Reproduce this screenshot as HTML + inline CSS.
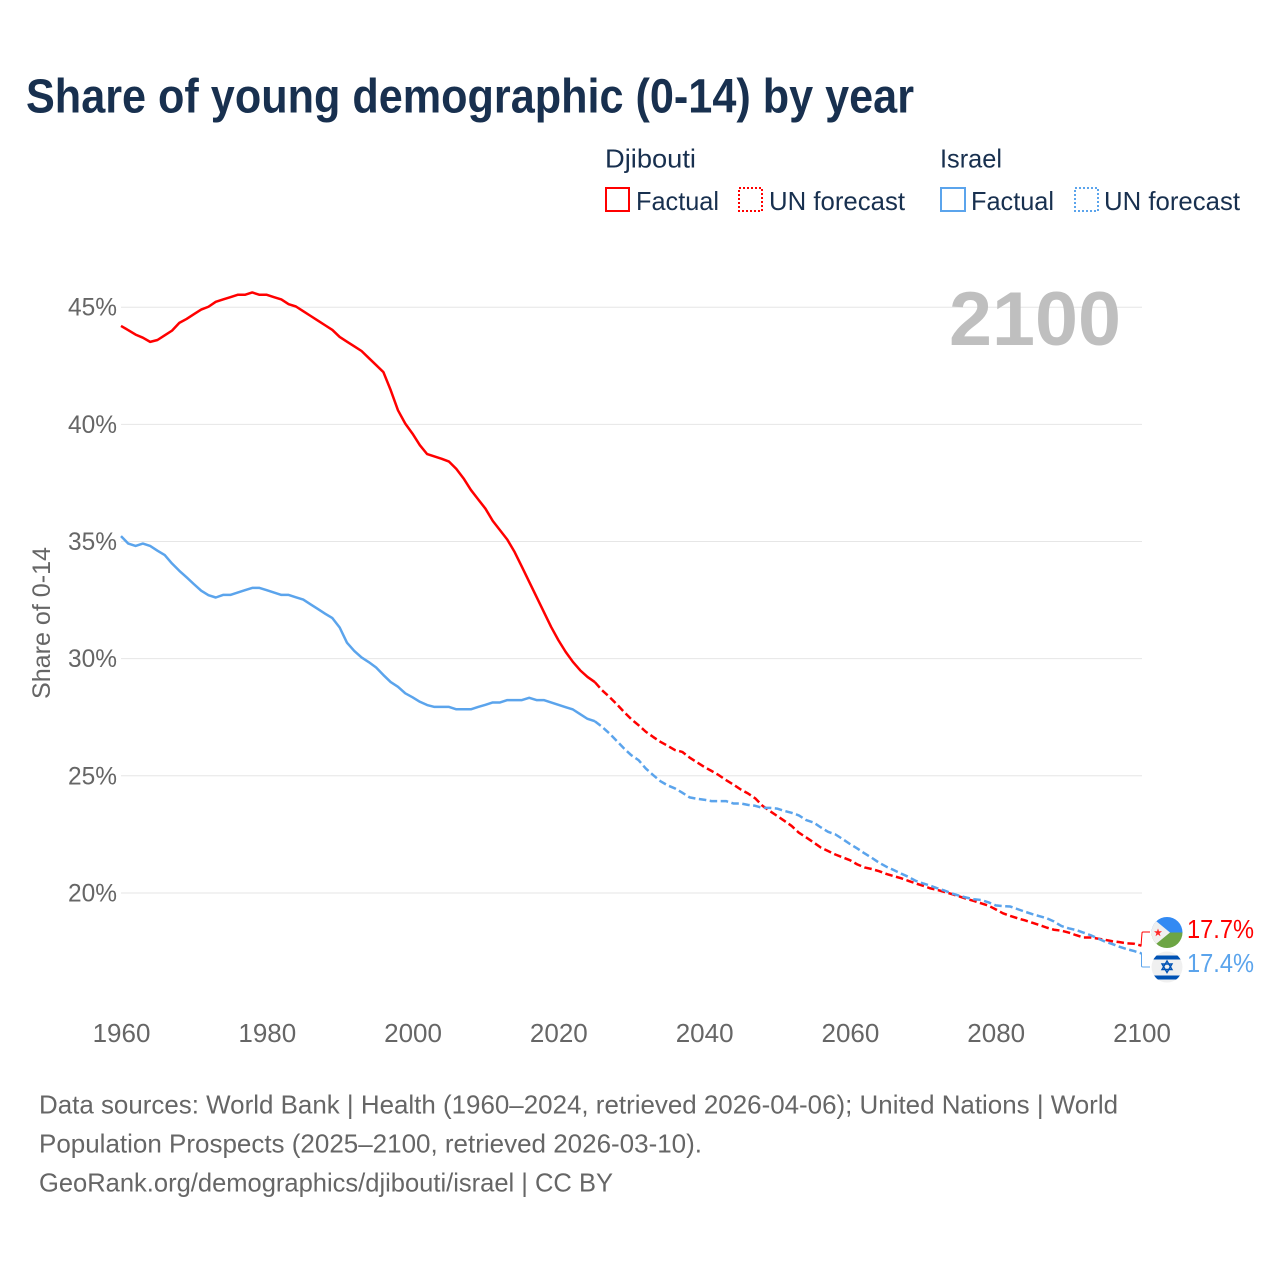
<!DOCTYPE html>
<html lang="en">
<head>
<meta charset="utf-8">
<title>Share of young demographic (0-14) by year</title>
<style>
html,body{margin:0;padding:0;background:#fff;}
svg{display:block;}
text{font-family:"Liberation Sans",sans-serif;}
</style>
</head>
<body>
<svg id="chart" xmlns="http://www.w3.org/2000/svg" width="1280" height="1280" viewBox="0 0 1280 1280">
  <rect x="0" y="0" width="1280" height="1280" fill="#fff"/>
  <text x="26" y="112.5" font-size="48" font-weight="700" fill="#18304f" textLength="888" lengthAdjust="spacingAndGlyphs">Share of young demographic (0-14) by year</text>

  <g font-size="26" fill="#18304f">
    <text x="605" y="167.5" textLength="91" lengthAdjust="spacingAndGlyphs">Djibouti</text>
    <text x="940" y="167.5" textLength="62" lengthAdjust="spacingAndGlyphs">Israel</text>
    <rect x="606" y="188" width="23" height="23" fill="none" stroke="#ff0000" stroke-width="2"/>
    <text x="636" y="210" textLength="83" lengthAdjust="spacingAndGlyphs">Factual</text>
    <rect x="739" y="188" width="23" height="23" fill="none" stroke="#ff0000" stroke-width="2" stroke-dasharray="2 2"/>
    <text x="769" y="210" textLength="136" lengthAdjust="spacingAndGlyphs">UN forecast</text>
    <rect x="941" y="188" width="24" height="23" fill="none" stroke="#5ba4ec" stroke-width="2"/>
    <text x="971" y="210" textLength="83" lengthAdjust="spacingAndGlyphs">Factual</text>
    <rect x="1075" y="188" width="23" height="23" fill="none" stroke="#5ba4ec" stroke-width="2" stroke-dasharray="2 2"/>
    <text x="1104" y="210" textLength="136" lengthAdjust="spacingAndGlyphs">UN forecast</text>
  </g>

  <g id="grid"></g>
  <text x="949" y="345" font-size="76" font-weight="700" fill="#bfbfbf" textLength="172" lengthAdjust="spacingAndGlyphs">2100</text>
  <g id="y-ticks" font-size="25" fill="#666"></g>
  <g id="x-ticks" font-size="26" fill="#666"></g>
  <text transform="translate(50,699) rotate(-90)" x="0" y="0" font-size="25" fill="#666" textLength="152" lengthAdjust="spacingAndGlyphs">Share of 0-14</text>

  <g id="series"></g>

  <path d="M1141,946 L1142,933 Q1142,932 1143,932 L1150,932" fill="none" stroke="#ff0000" stroke-width="1"/>
  <path d="M1141.5,953 L1141.5,966 Q1141.5,967 1143,967 L1150,967" fill="none" stroke="#5ba4ec" stroke-width="1"/>

  <defs>
    <clipPath id="flag-clip-dj"><circle cx="1167" cy="932.5" r="15.5"/></clipPath>
    <clipPath id="flag-clip-il"><circle cx="1167" cy="967" r="15.5"/></clipPath>
  </defs>
  <g clip-path="url(#flag-clip-dj)">
    <rect x="1151" y="917" width="32" height="16" fill="#338af3"/>
    <rect x="1151" y="932.5" width="32" height="16" fill="#6da544"/>
    <polygon points="1150,916 1170,932.5 1150,949" fill="#f0f0f0"/>
    <polygon points="1158,928.5 1159,931.3 1162,931.3 1159.6,933.2 1160.5,936.2 1158,934.4 1155.5,936.2 1156.4,933.2 1154,931.3 1157,931.3" fill="#ff2a2a"/>
  </g>
  <g clip-path="url(#flag-clip-il)">
    <rect x="1151" y="951" width="32" height="32" fill="#f0f0f0"/>
    <rect x="1151" y="955.5" width="32" height="4" fill="#0052b4"/>
    <rect x="1151" y="975.5" width="32" height="4" fill="#0052b4"/>
    <polygon points="1167,961 1172,969.5 1162,969.5" fill="none" stroke="#0052b4" stroke-width="1.4"/>
    <polygon points="1167,972.5 1172,964 1162,964" fill="none" stroke="#0052b4" stroke-width="1.4"/>
  </g>

  <text x="1187" y="938" font-size="26" fill="#ff0000" textLength="67" lengthAdjust="spacingAndGlyphs">17.7%</text>
  <text x="1187" y="972" font-size="26" fill="#5ba4ec" textLength="67" lengthAdjust="spacingAndGlyphs">17.4%</text>

  <g font-size="26" fill="#666">
    <text x="39" y="1113.5" textLength="1079" lengthAdjust="spacingAndGlyphs">Data sources: World Bank | Health (1960–2024, retrieved 2026-04-06); United Nations | World</text>
    <text x="39" y="1152.5" textLength="663" lengthAdjust="spacingAndGlyphs">Population Prospects (2025–2100, retrieved 2026-03-10).</text>
    <text x="39" y="1191.5" textLength="574" lengthAdjust="spacingAndGlyphs">GeoRank.org/demographics/djibouti/israel | CC BY</text>
  </g>
</svg>

<script>
const factualStartYear = 1960;
const forecastStartYear = 2025;
const xTickLabels = ["1960", "1980", "2000", "2020", "2040", "2060", "2080", "2100"];
const yTickValues = [20, 25, 30, 35, 40, 45];
const yTickLabels = ["20%", "25%", "30%", "35%", "40%", "45%"];

const djiboutiFactual = [
  44.2, 44.02, 43.83, 43.7, 43.52, 43.6, 43.8, 44.0, 44.33, 44.5,
  44.7, 44.9, 45.02, 45.23, 45.33, 45.43, 45.53, 45.53, 45.63, 45.53,
  45.53, 45.43, 45.33, 45.13, 45.03, 44.83, 44.63, 44.43, 44.23, 44.03,
  43.73, 43.53, 43.33, 43.13, 42.83, 42.53, 42.23, 41.46, 40.6, 40.03,
  39.6, 39.11, 38.73, 38.63, 38.53, 38.41, 38.1, 37.69, 37.2, 36.8,
  36.4, 35.88, 35.48, 35.08, 34.55, 33.92, 33.28, 32.64, 32.0, 31.36,
  30.79, 30.29, 29.86, 29.5, 29.22, 29.0
];
const djiboutiForecast = [
  29.0, 28.65, 28.37, 28.06, 27.73, 27.42, 27.16, 26.88, 26.66, 26.45,
  26.28, 26.1, 26.02, 25.78, 25.58, 25.38, 25.21, 25.03, 24.82, 24.63,
  24.42, 24.25, 24.04, 23.72, 23.5, 23.29, 23.08, 22.86, 22.57, 22.37,
  22.16, 21.94, 21.79, 21.64, 21.52, 21.4, 21.22, 21.09, 21.02, 20.93,
  20.81, 20.72, 20.63, 20.52, 20.41, 20.31, 20.2, 20.13, 20.04, 19.95,
  19.85, 19.75, 19.66, 19.56, 19.46, 19.3, 19.13, 19.02, 18.92, 18.83,
  18.73, 18.63, 18.52, 18.43, 18.39, 18.31, 18.2, 18.1, 18.1, 18.05,
  18.0, 17.94, 17.9, 17.85, 17.83, 17.75
];
const israelFactual = [
  35.23, 34.91, 34.81, 34.91, 34.81, 34.61, 34.42, 34.06, 33.75, 33.47,
  33.18, 32.9, 32.71, 32.61, 32.72, 32.72, 32.82, 32.92, 33.02, 33.02,
  32.92, 32.82, 32.72, 32.72, 32.62, 32.52, 32.32, 32.12, 31.92, 31.73,
  31.33, 30.68, 30.33, 30.05, 29.85, 29.62, 29.3, 29.0, 28.8, 28.52,
  28.35, 28.16, 28.02, 27.94, 27.94, 27.94, 27.84, 27.84, 27.84, 27.94,
  28.03, 28.13, 28.13, 28.23, 28.23, 28.23, 28.33, 28.23, 28.23, 28.13,
  28.03, 27.93, 27.83, 27.63, 27.43, 27.33
];
const israelForecast = [
  27.33, 27.09, 26.81, 26.49, 26.17, 25.88, 25.67, 25.31, 25.03, 24.77,
  24.59, 24.46, 24.28, 24.08, 24.02, 23.98, 23.92, 23.92, 23.92, 23.82,
  23.82, 23.76, 23.72, 23.63, 23.63, 23.6, 23.5, 23.42, 23.31, 23.11,
  23.01, 22.8, 22.61, 22.5, 22.3, 22.09, 21.9, 21.69, 21.5, 21.29,
  21.12, 20.98, 20.83, 20.69, 20.52, 20.41, 20.31, 20.2, 20.1, 19.98,
  19.88, 19.8, 19.73, 19.7, 19.6, 19.47, 19.44, 19.42, 19.31, 19.2,
  19.1, 19.01, 18.92, 18.78, 18.59, 18.49, 18.42, 18.31, 18.2, 18.06,
  17.92, 17.82, 17.7, 17.6, 17.52, 17.42
];

const SVG_NS = "http://www.w3.org/2000/svg";
const xScale = function (year) { return 121 + (year - 1960) * (1141.5 - 121) / 140; };
const yScale = function (value) { return 307.2 + (45 - value) * 23.43; };

const pointsFor = function (values, startYear) {
  return values.map(function (v, i) {
    return xScale(startYear + i).toFixed(2) + "," + yScale(v).toFixed(2);
  }).join(" ");
};

const gridGroup = document.getElementById("grid");
const yTickGroup = document.getElementById("y-ticks");
const xTickGroup = document.getElementById("x-ticks");
const seriesGroup = document.getElementById("series");

yTickValues.forEach(function (value, i) {
  const line = document.createElementNS(SVG_NS, "line");
  
  
  line.setAttribute("x1", 121);
  line.setAttribute("x2", 1142);
  line.setAttribute("y1", yScale(value));
  line.setAttribute("y2", yScale(value));
  line.setAttribute("stroke", "#e6e6e6");
  line.setAttribute("stroke-width", 1);
  gridGroup.appendChild(line);

  const label = document.createElementNS(SVG_NS, "text");
  
  
  label.setAttribute("x", 68);
  label.setAttribute("y", yScale(value) + 8.5);
  label.setAttribute("textLength", 49);
  label.setAttribute("lengthAdjust", "spacingAndGlyphs");
  label.textContent = yTickLabels[i];
  yTickGroup.appendChild(label);
});

xTickLabels.forEach(function (text) {
  const label = document.createElementNS(SVG_NS, "text");
  
  
  label.setAttribute("x", xScale(Number(text)) + 0.5);
  label.setAttribute("y", 1042);
  label.setAttribute("text-anchor", "middle");
  label.textContent = text;
  xTickGroup.appendChild(label);
});

const drawLine = function (name, values, startYear, color, dashed) {
  const line = document.createElementNS(SVG_NS, "polyline");
  
  
  line.setAttribute("points", pointsFor(values, startYear));
  line.setAttribute("fill", "none");
  line.setAttribute("stroke", color);
  line.setAttribute("stroke-width", 2.5);
  line.setAttribute("stroke-linejoin", "round");
  if (dashed) {
    line.setAttribute("stroke-dasharray", "7.5 3.5");
  }
  seriesGroup.appendChild(line);
};

drawLine("line-djibouti-factual", djiboutiFactual, factualStartYear, "#ff0000", false);
drawLine("line-djibouti-forecast", djiboutiForecast, forecastStartYear, "#ff0000", true);
drawLine("line-israel-factual", israelFactual, factualStartYear, "#5ba4ec", false);
drawLine("line-israel-forecast", israelForecast, forecastStartYear, "#5ba4ec", true);
</script>
</body>
</html>
